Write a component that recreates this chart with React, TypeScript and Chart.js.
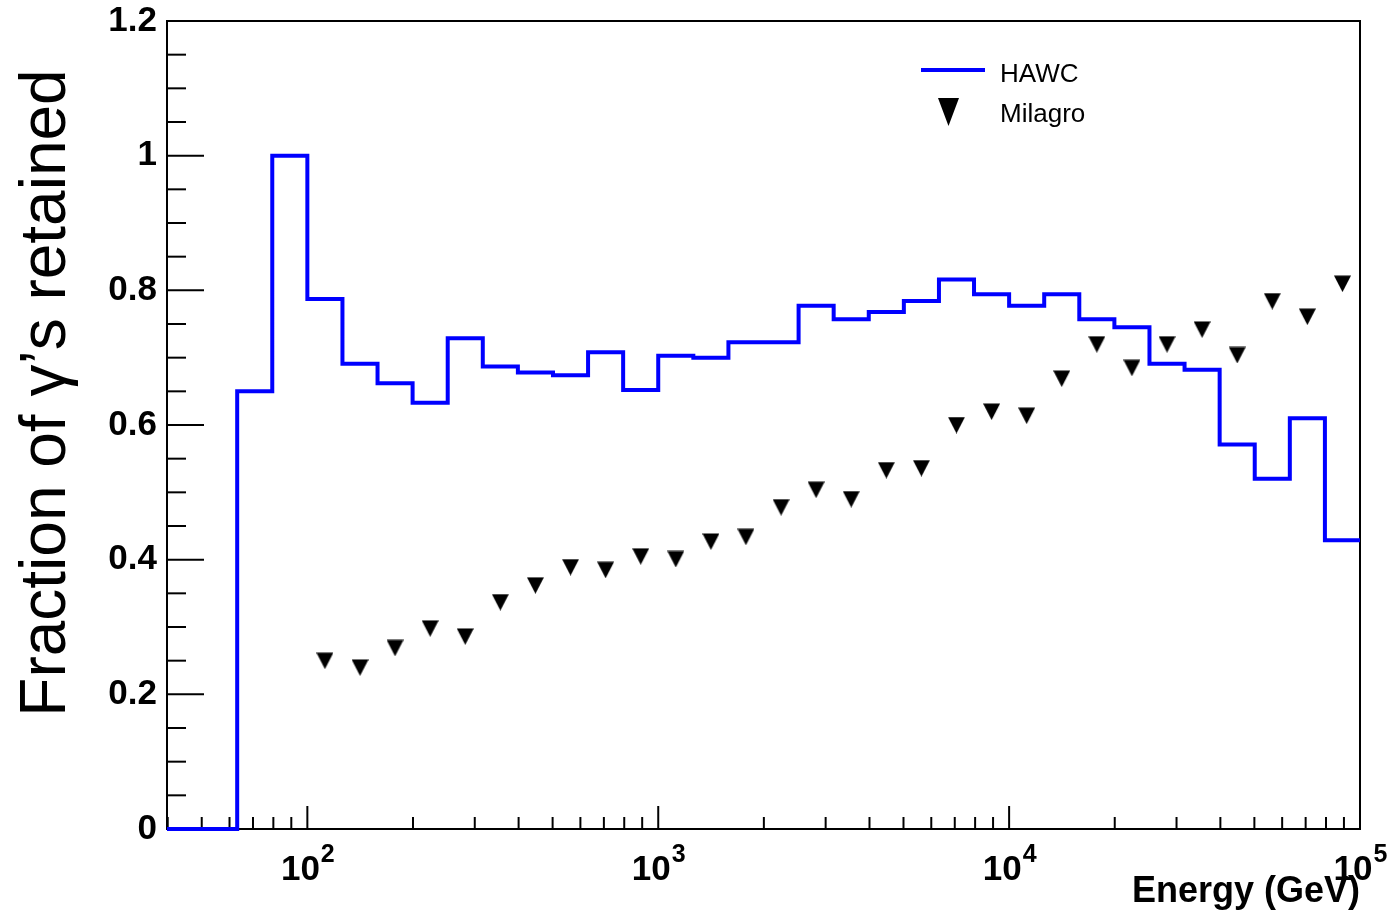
import React, { useEffect, useRef } from 'react';
import { Chart, registerables } from 'chart.js';

Chart.register(...registerables);

// HAWC histogram: bin edges (GeV) and retained fraction per bin
const hawcBinEdges = [
  39.81, 50.12, 63.10, 79.43,
  100, 125.9, 158.5, 199.5, 251.2, 316.2, 398.1, 501.2, 631.0, 794.3,
  1000, 1259, 1585, 1995, 2512, 3162, 3981, 5012, 6310, 7943,
  10000, 12589, 15849, 19953, 25119, 31623, 39811, 50119, 63096, 79433,
  100000,
];
const hawcValues = [
  0, 0, 0.65, 1.0,
  0.787, 0.691, 0.662, 0.633, 0.729, 0.687, 0.678, 0.674, 0.708, 0.652,
  0.703, 0.700, 0.723, 0.723, 0.777, 0.757, 0.768, 0.784, 0.816, 0.794,
  0.777, 0.794, 0.757, 0.745, 0.691, 0.682, 0.571, 0.520, 0.610, 0.429,
];

// Milagro points
const milagroEnergy = [
  112.2, 141.3, 177.8, 223.9, 281.8, 354.8, 446.7, 562.3, 707.9, 891.3,
  1122, 1413, 1778, 2239, 2818, 3548, 4467, 5623, 7079, 8913,
  11220, 14125, 17783, 22387, 28184, 35481, 44668, 56234, 70795, 89125,
];
const milagroFraction = [
  0.250, 0.240, 0.269, 0.298, 0.286, 0.337, 0.362, 0.389, 0.385, 0.405,
  0.401, 0.427, 0.434, 0.478, 0.504, 0.490, 0.533, 0.536, 0.600, 0.620,
  0.614, 0.669, 0.720, 0.685, 0.720, 0.742, 0.704, 0.784, 0.761, 0.810,
];

const xMin = 39.81;
const xMax = 100000;
const yMin = 0;
const yMax = 1.2;
const decadeTicks = [100, 1000, 10000, 100000];

const FONT = '"Liberation Sans", Arial, Helvetica, sans-serif';
const yTitle = 'Fraction of γ’s retained';
const xTitle = 'Energy (GeV)';

function makeTriangle(w: number, h: number): HTMLCanvasElement {
  const c = document.createElement('canvas');
  c.width = w;
  c.height = h;
  const g = c.getContext('2d')!;
  g.fillStyle = '#000';
  g.beginPath();
  g.moveTo(0, 0.5);
  g.lineTo(w, 0.5);
  g.lineTo(w / 2, h);
  g.closePath();
  g.fill();
  return c;
}

const rootPlugin = {
  id: 'rootStyle',
  beforeDatasetsDraw(chart: any) {
    const { ctx, chartArea: a, scales } = chart;
    ctx.save();
    ctx.strokeStyle = '#000';
    ctx.lineWidth = 2;
    ctx.strokeRect(a.left, a.top, a.right - a.left, a.bottom - a.top);
    // y ticks (inward)
    const ys = scales.y;
    ys.ticks.forEach((t: any) => {
      const py = ys.getPixelForValue(t.value);
      const major = Math.abs(t.value * 5 - Math.round(t.value * 5)) < 1e-6;
      const len = major ? 37 : 19;
      ctx.beginPath();
      ctx.moveTo(a.left, py);
      ctx.lineTo(a.left + len, py);
      ctx.stroke();
    });
    // x ticks (inward)
    const xs = scales.x;
    xs.ticks.forEach((t: any) => {
      const px = xs.getPixelForValue(t.value);
      const len = t.major ? 23 : 12;
      ctx.beginPath();
      ctx.moveTo(px, a.bottom);
      ctx.lineTo(px, a.bottom - len);
      ctx.stroke();
    });
    ctx.restore();
  },
  afterDraw(chart: any) {
    const { ctx, scales } = chart;
    ctx.save();
    ctx.fillStyle = '#000';
    // x tick labels with superscripts
    const xs = scales.x;
    xs.ticks.forEach((t: any) => {
      if (!t.major) return;
      const px = xs.getPixelForValue(t.value);
      const exp = String(Math.round(Math.log10(t.value)));
      ctx.font = `bold 35px ${FONT}`;
      const wb = ctx.measureText('10').width;
      ctx.font = `bold 25px ${FONT}`;
      const we = ctx.measureText(exp).width;
      const x0 = px - (wb + we) / 2;
      ctx.textAlign = 'left';
      ctx.textBaseline = 'alphabetic';
      ctx.font = `bold 35px ${FONT}`;
      ctx.fillText('10', x0, 880);
      ctx.font = `bold 25px ${FONT}`;
      ctx.fillText(exp, x0 + wb + 1, 862);
    });
    // y title
    ctx.save();
    ctx.translate(65, 393);
    ctx.rotate(-Math.PI / 2);
    ctx.font = `64px ${FONT}`;
    ctx.textAlign = 'center';
    ctx.textBaseline = 'alphabetic';
    ctx.fillText(yTitle, 0, 0);
    ctx.restore();
    // legend
    const ds = chart.data.datasets;
    ctx.strokeStyle = ds[0].borderColor;
    ctx.lineWidth = 4;
    ctx.beginPath();
    ctx.moveTo(921, 70);
    ctx.lineTo(985, 70);
    ctx.stroke();
    ctx.fillStyle = '#000';
    ctx.beginPath();
    ctx.moveTo(938, 98);
    ctx.lineTo(959, 98);
    ctx.lineTo(948.5, 126);
    ctx.closePath();
    ctx.fill();
    ctx.font = `26px ${FONT}`;
    ctx.textAlign = 'left';
    ctx.textBaseline = 'alphabetic';
    ctx.fillText(ds[0].label, 1000, 82);
    ctx.fillText(ds[1].label, 1000, 122);
    ctx.restore();
  },
};

export default function App() {
  const ref = useRef<HTMLCanvasElement | null>(null);
  useEffect(() => {
    if (!ref.current) return;
    const tri = makeTriangle(17, 17);
    const hawcData = hawcBinEdges.map((e, i) => ({
      x: e,
      y: hawcValues[Math.min(i, hawcValues.length - 1)],
    }));
    const milagroData = milagroEnergy.map((e, i) => ({ x: e, y: milagroFraction[i] }));
    const chart = new Chart(ref.current, {
      type: 'line',
      data: {
        datasets: [
          {
            label: 'HAWC',
            data: hawcData,
            borderColor: '#0000ff',
            borderWidth: 4,
            stepped: 'before',
            pointRadius: 0,
            fill: false,
            clip: false,
            borderJoinStyle: 'miter',
          } as any,
          {
            label: 'Milagro',
            data: milagroData,
            showLine: false,
            pointStyle: tri,
            pointRadius: 8,
            pointBackgroundColor: '#000',
            pointBorderWidth: 0,
            clip: false,
          } as any,
        ],
      },
      options: {
        responsive: false,
        animation: false,
        layout: { padding: { left: 0, top: 21, right: 30, bottom: 0 } },
        plugins: {
          legend: { display: false },
          tooltip: { enabled: false },
        },
        scales: {
          x: {
            type: 'logarithmic',
            min: xMin,
            max: xMax,
            grid: { display: false, drawTicks: false },
            border: { display: false },
            ticks: { display: false, autoSkip: false },
            afterBuildTicks: (scale: any) => {
              const ticks: any[] = [];
              for (let d = 10; d < xMax; d *= 10) {
                for (let m = 1; m <= 9; m++) {
                  const v = d * m;
                  if (v >= xMin && v <= xMax) ticks.push({ value: v, major: decadeTicks.includes(v) });
                }
              }
              ticks.push({ value: xMax, major: true });
              scale.ticks = ticks;
            },
            afterFit: (scale: any) => {
              scale.height = 87;
            },
            title: {
              display: true,
              text: xTitle,
              align: 'end',
              color: '#000',
              font: { family: FONT, size: 36, weight: 'bold' },
              padding: { top: 0, bottom: 2 },
            },
          },
          y: {
            type: 'linear',
            min: yMin,
            max: yMax,
            grid: { display: false, drawTicks: false },
            border: { display: false },
            ticks: {
              stepSize: 0.05,
              autoSkip: false,
              padding: 10,
              color: '#000',
              font: { family: FONT, size: 35, weight: 'bold', lineHeight: 0.5 },
              callback: (v: any) => {
                const n = Number(v);
                if (Math.abs(n * 5 - Math.round(n * 5)) > 1e-6) return '';
                return String(Math.round(n * 10) / 10);
              },
            },
            afterFit: (scale: any) => {
              scale.width = 167;
            },
          },
        },
      },
      plugins: [rootPlugin],
    } as any);
    return () => chart.destroy();
  }, []);
  return (
    <div style={{ position: 'fixed', left: 0, top: 0, width: 1390, height: 916, background: '#fff' }}>
      <canvas ref={ref} width={1390} height={916} style={{ display: 'block' }} />
    </div>
  );
}
